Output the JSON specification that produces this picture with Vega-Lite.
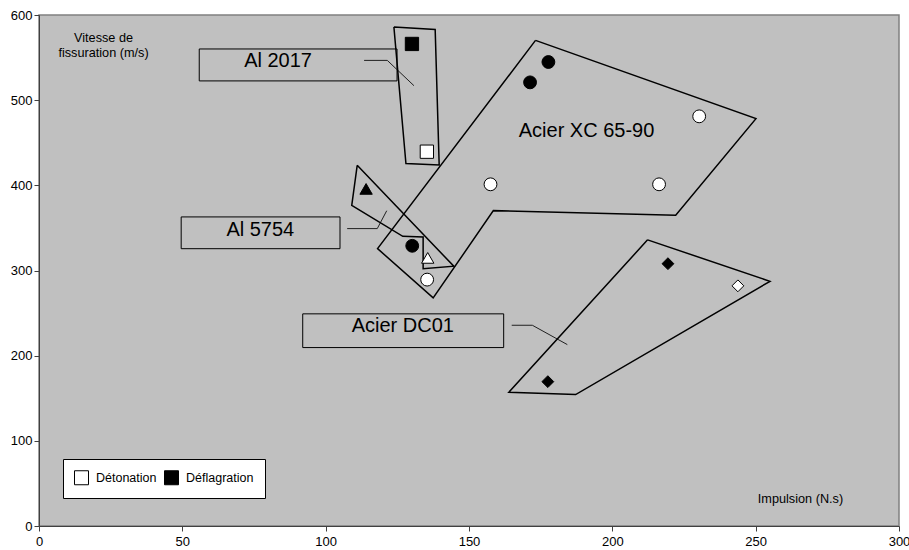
{
  "$schema": "https://vega.github.io/schema/vega-lite/v6.json",
  "width": 860,
  "height": 511,
  "autosize": "none",
  "padding": {"left": 39, "top": 15, "right": 10, "bottom": 24},
  "background": "white",
  "config": {
    "font": "Liberation Sans",
    "view": {"fill": "#c0c0c0", "stroke": "#808080", "strokeWidth": 1.5}
  },
  "datasets": {
    "points": [
      {"materiau": "Al 2017", "mode": "Déflagration", "x": 130.1, "y": 566},
      {"materiau": "Al 2017", "mode": "Détonation", "x": 135.3, "y": 439.5},
      {"materiau": "Acier XC 65-90", "mode": "Déflagration", "x": 177.7, "y": 544.8},
      {"materiau": "Acier XC 65-90", "mode": "Déflagration", "x": 171.3, "y": 520.9},
      {"materiau": "Acier XC 65-90", "mode": "Déflagration", "x": 130.2, "y": 329},
      {"materiau": "Acier XC 65-90", "mode": "Détonation", "x": 157.5, "y": 401.2},
      {"materiau": "Acier XC 65-90", "mode": "Détonation", "x": 216.3, "y": 401.2},
      {"materiau": "Acier XC 65-90", "mode": "Détonation", "x": 230.3, "y": 481},
      {"materiau": "Acier XC 65-90", "mode": "Détonation", "x": 135.4, "y": 289.3},
      {"materiau": "Al 5754", "mode": "Déflagration", "x": 114.1, "y": 395.8},
      {"materiau": "Al 5754", "mode": "Détonation", "x": 135.6, "y": 314.8},
      {"materiau": "Acier DC01", "mode": "Déflagration", "x": 219.4, "y": 308},
      {"materiau": "Acier DC01", "mode": "Déflagration", "x": 177.5, "y": 169.5},
      {"materiau": "Acier DC01", "mode": "Détonation", "x": 243.8, "y": 282}
    ],
    "polygons": [
      {"poly": "Al 2017", "ordre": 1, "x": 123.8, "y": 586},
      {"poly": "Al 2017", "ordre": 2, "x": 138.2, "y": 583},
      {"poly": "Al 2017", "ordre": 3, "x": 139.6, "y": 424},
      {"poly": "Al 2017", "ordre": 4, "x": 128, "y": 425.5},
      {"poly": "Al 2017", "ordre": 5, "x": 123.8, "y": 586},
      {"poly": "Al 5754", "ordre": 1, "x": 111.0, "y": 423.5},
      {"poly": "Al 5754", "ordre": 2, "x": 144.7, "y": 305},
      {"poly": "Al 5754", "ordre": 3, "x": 134.0, "y": 302.2},
      {"poly": "Al 5754", "ordre": 4, "x": 134.0, "y": 339.4},
      {"poly": "Al 5754", "ordre": 5, "x": 126.9, "y": 340.1},
      {"poly": "Al 5754", "ordre": 6, "x": 109.1, "y": 376.5},
      {"poly": "Al 5754", "ordre": 7, "x": 111.0, "y": 423.5},
      {"poly": "Acier XC 65-90", "ordre": 1, "x": 173.2, "y": 570.2},
      {"poly": "Acier XC 65-90", "ordre": 2, "x": 250.1, "y": 478.3},
      {"poly": "Acier XC 65-90", "ordre": 3, "x": 222.1, "y": 364.8},
      {"poly": "Acier XC 65-90", "ordre": 4, "x": 158.5, "y": 370.3},
      {"poly": "Acier XC 65-90", "ordre": 5, "x": 137.5, "y": 267.8},
      {"poly": "Acier XC 65-90", "ordre": 6, "x": 118.1, "y": 325.7},
      {"poly": "Acier XC 65-90", "ordre": 7, "x": 173.2, "y": 570.2},
      {"poly": "Acier DC01", "ordre": 1, "x": 212.3, "y": 336},
      {"poly": "Acier DC01", "ordre": 2, "x": 255, "y": 287.3},
      {"poly": "Acier DC01", "ordre": 3, "x": 187.2, "y": 154.3},
      {"poly": "Acier DC01", "ordre": 4, "x": 163.9, "y": 157},
      {"poly": "Acier DC01", "ordre": 5, "x": 212.3, "y": 336}
    ],
    "leaders": [
      {"leader": "Al 2017", "ordre": 1, "x": 113.4, "y": 546.7},
      {"leader": "Al 2017", "ordre": 2, "x": 121.5, "y": 546.7},
      {"leader": "Al 2017", "ordre": 3, "x": 130.8, "y": 517},
      {"leader": "Al 5754", "ordre": 1, "x": 107.5, "y": 349.2},
      {"leader": "Al 5754", "ordre": 2, "x": 118, "y": 349.2},
      {"leader": "Al 5754", "ordre": 3, "x": 121.3, "y": 370.2},
      {"leader": "Acier DC01", "ordre": 1, "x": 164.9, "y": 235.7},
      {"leader": "Acier DC01", "ordre": 2, "x": 172.1, "y": 235.7},
      {"leader": "Acier DC01", "ordre": 3, "x": 184.3, "y": 213}
    ],
    "boxes": [
      {"label": "Al 2017", "x1": 55.9, "x2": 124.9, "y1": 522.6, "y2": 560.1},
      {"label": "Al 5754", "x1": 49.6, "x2": 105, "y1": 325.6, "y2": 362.9},
      {"label": "Acier DC01", "x1": 92, "x2": 162.1, "y1": 209.5, "y2": 249.1}
    ],
    "labels": [
      {"label": "Al 2017", "x": 83.4, "y": 546},
      {"label": "Al 5754", "x": 77.2, "y": 347.6},
      {"label": "Acier DC01", "x": 126.9, "y": 234.5},
      {"label": "Acier XC 65-90", "x": 191, "y": 463.6}
    ]
  },
  "layer": [
    {
      "data": {"name": "boxes"},
      "mark": {"type": "rect", "fill": "#c0c0c0", "fillOpacity": 0, "stroke": "#000000", "strokeWidth": 1},
      "encoding": {
        "x": {"field": "x1", "type": "quantitative", "scale": {"domain": [0, 300], "nice": false, "zero": false}},
        "x2": {"field": "x2"},
        "y": {"field": "y1", "type": "quantitative", "scale": {"domain": [0, 600], "nice": false, "zero": false}},
        "y2": {"field": "y2"}
      }
    },
    {
      "data": {"name": "leaders"},
      "mark": {"type": "line", "stroke": "#202020", "strokeWidth": 1},
      "encoding": {
        "x": {"field": "x", "type": "quantitative"},
        "y": {"field": "y", "type": "quantitative"},
        "detail": {"field": "leader"},
        "order": {"field": "ordre", "type": "quantitative"}
      }
    },
    {
      "data": {"name": "polygons"},
      "mark": {"type": "line", "stroke": "#000000", "strokeWidth": 1.5},
      "encoding": {
        "x": {"field": "x", "type": "quantitative"},
        "y": {"field": "y", "type": "quantitative"},
        "detail": {"field": "poly"},
        "order": {"field": "ordre", "type": "quantitative"}
      }
    },
    {
      "data": {"name": "labels"},
      "mark": {"type": "text", "fontSize": 20, "font": "Liberation Sans", "align": "center", "baseline": "middle", "color": "#000000"},
      "encoding": {
        "x": {"field": "x", "type": "quantitative"},
        "y": {"field": "y", "type": "quantitative"},
        "text": {"field": "label"}
      }
    },
    {
      "data": {"name": "points"},
      "mark": {"type": "point", "filled": true, "stroke": "#000000", "strokeWidth": 1, "opacity": 1},
      "encoding": {
        "x": {
          "field": "x", "type": "quantitative",
          "axis": {
            "values": [0, 50, 100, 150, 200, 250, 300],
            "grid": false,
            "domainColor": "#404040",
            "tickColor": "#404040",
            "tickSize": 5,
            "labelFontSize": 13,
            "labelFont": "Liberation Sans",
            "labelColor": "#000000",
            "labelPadding": 4,
            "labelFlush": false,
            "title": "Impulsion (N.s)",
            "titleFont": "Liberation Sans",
            "titleFontSize": 12.7,
            "titleFontWeight": "normal",
            "titleColor": "#000000",
            "titleX": 761,
            "titleY": -28,
            "titleAlign": "center",
            "titleBaseline": "middle"
          }
        },
        "y": {
          "field": "y", "type": "quantitative",
          "axis": {
            "values": [0, 100, 200, 300, 400, 500, 600],
            "grid": false,
            "domainColor": "#404040",
            "tickColor": "#404040",
            "tickSize": 5,
            "labelFontSize": 13,
            "labelFont": "Liberation Sans",
            "labelColor": "#000000",
            "labelPadding": 2,
            "labelFlush": false,
            "title": ["Vitesse de", "fissuration (m/s)"],
            "titleFont": "Liberation Sans",
            "titleFontSize": 12.7,
            "titleFontWeight": "normal",
            "titleColor": "#000000",
            "titleAngle": 0,
            "titleX": 64,
            "titleY": 16,
            "titleAlign": "center",
            "titleBaseline": "top",
            "titleLineHeight": 15.5
          }
        },
        "fill": {
          "field": "mode", "type": "nominal",
          "scale": {"domain": ["Détonation", "Déflagration"], "range": ["#ffffff", "#000000"]},
          "legend": {
            "title": null,
            "orient": "none",
            "legendX": 24,
            "legendY": 444,
            "direction": "horizontal",
            "fillColor": "#ffffff",
            "strokeColor": "#000000",
            "padding": 11,
            "symbolType": "square",
            "symbolSize": 196,
            "symbolStrokeColor": "#000000",
            "symbolStrokeWidth": 1,
            "labelFont": "Liberation Sans",
            "labelFontSize": 12.5,
            "labelColor": "#000000",
            "labelOffset": 7,
            "columnPadding": 5
          }
        },
        "shape": {
          "field": "materiau", "type": "nominal",
          "scale": {"domain": ["Al 2017", "Acier XC 65-90", "Al 5754", "Acier DC01"], "range": ["square", "circle", "triangle-up", "diamond"]},
          "legend": null
        },
        "size": {
          "field": "materiau", "type": "nominal",
          "scale": {"domain": ["Al 2017", "Acier XC 65-90", "Al 5754", "Acier DC01"], "range": [177, 140, 190, 260]},
          "legend": null
        }
      }
    }
  ]
}
